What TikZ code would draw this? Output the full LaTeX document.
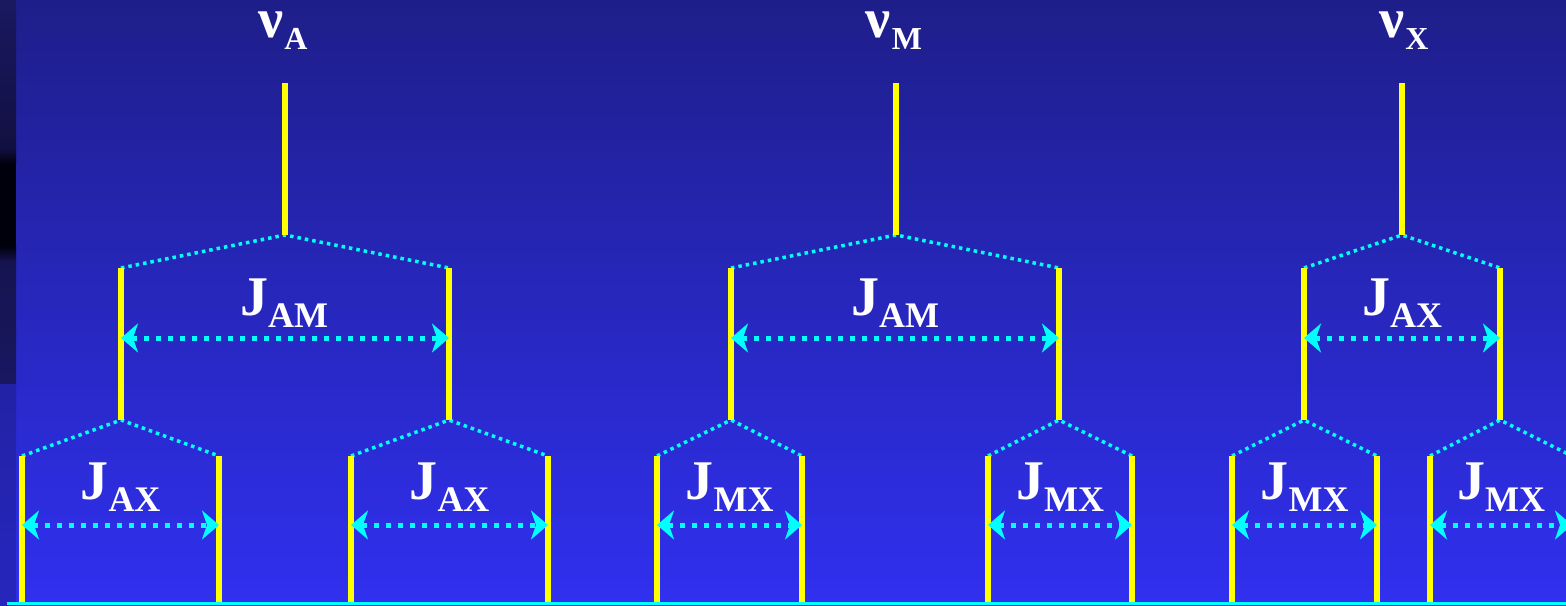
\documentclass[tikz,border=0pt]{standalone}
\usepackage{fontspec}
\setmainfont{Liberation Serif}
\usetikzlibrary{arrows.meta}
\definecolor{bgtop}{RGB}{30,30,138}
\definecolor{bgbot}{RGB}{48,48,240}
\definecolor{lineyellow}{RGB}{255,255,0}
\definecolor{linecyan}{RGB}{0,255,255}
\definecolor{stripA}{RGB}{26,24,96}
\definecolor{stripB}{RGB}{18,16,66}
\definecolor{stripC}{RGB}{0,0,12}
\definecolor{stripD}{RGB}{22,20,80}
\definecolor{stripE}{RGB}{34,34,165}
\definecolor{stripF}{RGB}{38,38,190}
\newcommand\jlab[2]{{\bfseries\fontsize{56}{56}\selectfont J}\raisebox{-12pt}{\bfseries\fontsize{36}{36}\selectfont #2}}
\newcommand\nulab[1]{{\bfseries\fontsize{56}{56}\selectfont ν}\kern1pt\raisebox{-12pt}{\bfseries\fontsize{32}{32}\selectfont #1}}
\begin{document}
\begin{tikzpicture}[x=1pt,y=-1pt,
  stem/.style={draw=lineyellow,line width=6pt},
  branch/.style={draw=linecyan,line width=3.5pt,dash pattern=on 3.5pt off 4pt},
  jarrow/.style={draw=linecyan,line width=5pt,dash pattern=on 5pt off 7pt,
    {Stealth[length=17pt,width=29pt,inset=5pt]}-{Stealth[length=17pt,width=29pt,inset=5pt]}},
  lbl/.style={text=white,inner sep=0pt,anchor=base}]
\useasboundingbox (0,0) rectangle (1566,605);
\clip (0,0) rectangle (1566,605);
% background
\shade[top color=bgtop,bottom color=bgbot] (0,0) rectangle (1566,605);
\shade[top color=stripA,bottom color=stripB] (0,0) rectangle (16,148);
\shade[top color=stripB,bottom color=stripC] (0,148) rectangle (16,164);
\fill[stripC] (0,164) rectangle (16,246);
\shade[top color=stripC,bottom color=stripD] (0,246) rectangle (16,262);
\shade[top color=stripD,bottom color=stripD!80!stripE] (0,262) rectangle (16,384);
\shade[top color=stripE,bottom color=stripF] (0,384) rectangle (16,605);
% reference heights
\coordinate (ya1) at (0,338);
\coordinate (ya2) at (0,525);
% ---------- tree A ----------
\coordinate (A0) at (285,83);   \coordinate (A1) at (285,235);
\coordinate (AL0) at (121,268); \coordinate (AL1) at (121,420);
\coordinate (AR0) at (449,268); \coordinate (AR1) at (449,420);
\coordinate (ALL0) at (22,456); \coordinate (ALL1) at (22,605);
\coordinate (ALR0) at (219,456);\coordinate (ALR1) at (219,605);
\coordinate (ARL0) at (351,456);\coordinate (ARL1) at (351,605);
\coordinate (ARR0) at (548,456);\coordinate (ARR1) at (548,605);
% ---------- tree M ----------
\coordinate (M0) at (896,83);   \coordinate (M1) at (896,235);
\coordinate (ML0) at (731,268); \coordinate (ML1) at (731,420);
\coordinate (MR0) at (1059,268);\coordinate (MR1) at (1059,420);
\coordinate (MLL0) at (657,456);\coordinate (MLL1) at (657,605);
\coordinate (MLR0) at (802,456);\coordinate (MLR1) at (802,605);
\coordinate (MRL0) at (988,456);\coordinate (MRL1) at (988,605);
\coordinate (MRR0) at (1132,456);\coordinate (MRR1) at (1132,605);
% ---------- tree X ----------
\coordinate (X0) at (1402,83);  \coordinate (X1) at (1402,235);
\coordinate (XL0) at (1304,268);\coordinate (XL1) at (1304,420);
\coordinate (XR0) at (1500,268);\coordinate (XR1) at (1500,420);
\coordinate (XLL0) at (1232,456);\coordinate (XLL1) at (1232,605);
\coordinate (XLR0) at (1377,456);\coordinate (XLR1) at (1377,605);
\coordinate (XRL0) at (1430,456);\coordinate (XRL1) at (1430,605);
\coordinate (XRR0) at (1572,456);\coordinate (XRR1) at (1572,605);
% dotted branches
\foreach \p in {A,M,X}{
  \draw[branch] (\p L0) -- (\p 1) -- (\p R0);
  \draw[branch] (\p LL0) -- (\p L1) -- (\p LR0);
  \draw[branch] (\p RL0) -- (\p R1) -- (\p RR0);
}
% yellow stems
\foreach \p in {A,M,X}{
  \draw[stem] (\p 0) -- (\p 1);
  \draw[stem] (\p L0) -- (\p L1);
  \draw[stem] (\p R0) -- (\p R1);
  \draw[stem] (\p LL0) -- (\p LL1);
  \draw[stem] (\p LR0) -- (\p LR1);
  \draw[stem] (\p RL0) -- (\p RL1);
  \draw[stem] (\p RR0) -- (\p RR1);
}
% coupling arrows
\foreach \p in {A,M,X}{
  \draw[jarrow] (\p L0 |- ya1) -- (\p R0 |- ya1);
  \draw[jarrow] (\p LL0 |- ya2) -- (\p LR0 |- ya2);
  \draw[jarrow] (\p RL0 |- ya2) -- (\p RR0 |- ya2);
}
% labels
\node[lbl] (nuA) at (283,37) {\nulab{A}};
\node[lbl] (nuM) at (894,37) {\nulab{M}};
\node[lbl] (nuX) at (1404,37) {\nulab{X}};
\node[lbl] (jA1) at (284,315) {\jlab{J}{AM}};
\node[lbl] (jM1) at (895,315) {\jlab{J}{AM}};
\node[lbl] (jX1) at (1402,315) {\jlab{J}{AX}};
\node[lbl] (jA2) at (120.5,499) {\jlab{J}{AX}};
\node[lbl] (jA3) at (449.5,499) {\jlab{J}{AX}};
\node[lbl] (jM2) at (729.5,499) {\jlab{J}{MX}};
\node[lbl] (jM3) at (1060,499) {\jlab{J}{MX}};
\node[lbl] (jX2) at (1304.5,499) {\jlab{J}{MX}};
\node[lbl] (jX3) at (1501,499) {\jlab{J}{MX}};
% base line
\coordinate (B0) at (7,603.5);
\coordinate (B1) at (1566,603.5);
\draw[draw=linecyan,line width=3pt] (B0) -- (B1);
\end{tikzpicture}
\end{document}
